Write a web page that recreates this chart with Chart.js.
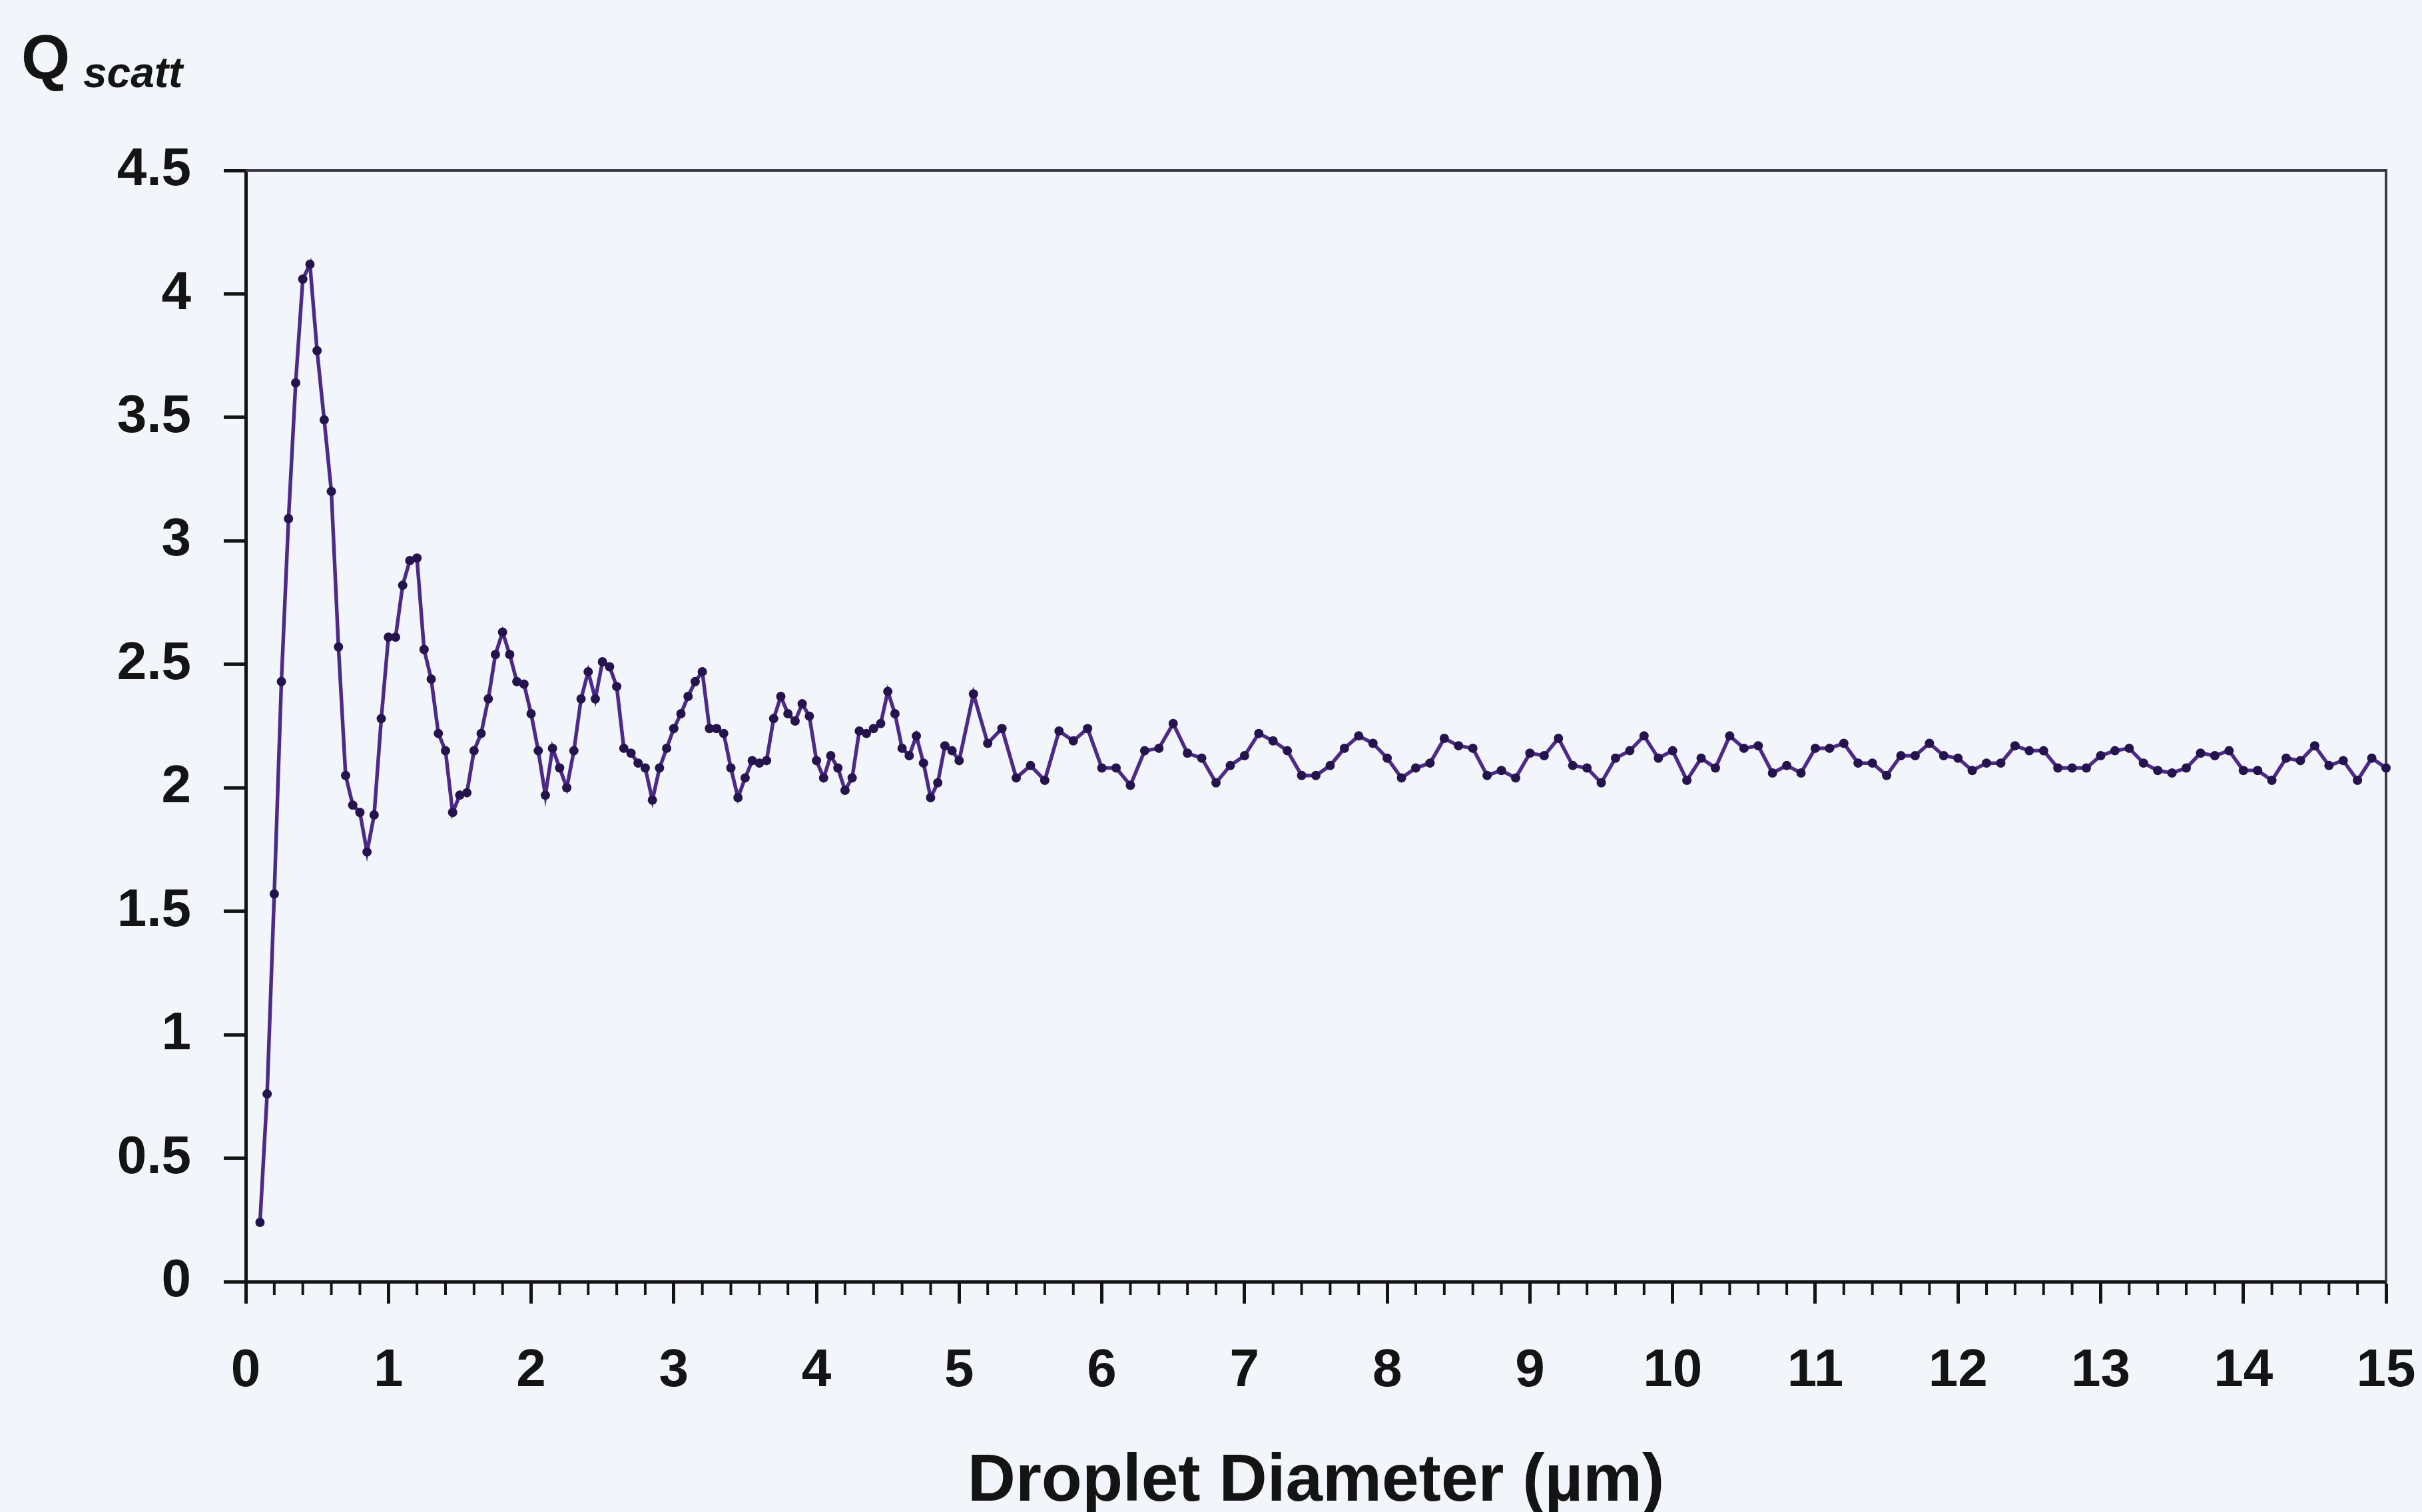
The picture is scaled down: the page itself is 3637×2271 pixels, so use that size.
<!DOCTYPE html>
<html>
<head>
<meta charset="utf-8">
<script src="https://cdn.jsdelivr.net/npm/chart.js@4"></script>
<style>
	html, body { margin: 0; padding: 0; background: #f2f6fa; }
	canvas { display: block; }
</style>
</head>
<body>
<canvas id="qscatt" width="3637" height="2271"></canvas>
<script>
// droplet diameters (µm), fine spacing up to 5 µm
const diameterFine = [0.1, 0.15, 0.2, 0.25, 0.3, 0.35, 0.4, 0.45, 0.5, 0.55, 0.6, 0.65, 0.7, 0.75, 0.8, 0.85, 0.9, 0.95, 1,
	1.05, 1.1, 1.15, 1.2, 1.25, 1.3, 1.35, 1.4, 1.45, 1.5, 1.55, 1.6, 1.65, 1.7, 1.75, 1.8, 1.85, 1.9, 1.95, 2,
	2.05, 2.1, 2.15, 2.2, 2.25, 2.3, 2.35, 2.4, 2.45, 2.5, 2.55, 2.6, 2.65, 2.7, 2.75, 2.8, 2.85, 2.9, 2.95, 3,
	3.05, 3.1, 3.15, 3.2, 3.25, 3.3, 3.35, 3.4, 3.45, 3.5, 3.55, 3.6, 3.65, 3.7, 3.75, 3.8, 3.85, 3.9, 3.95, 4,
	4.05, 4.1, 4.15, 4.2, 4.25, 4.3, 4.35, 4.4, 4.45, 4.5, 4.55, 4.6, 4.65, 4.7, 4.75, 4.8, 4.85, 4.9, 4.95, 5];
const qFine = [0.24, 0.76, 1.57, 2.43, 3.09, 3.64, 4.06, 4.12, 3.77, 3.49, 3.20, 2.57, 2.05, 1.93, 1.90, 1.74, 1.89, 2.28, 2.61,
	2.61, 2.82, 2.92, 2.93, 2.56, 2.44, 2.22, 2.15, 1.90, 1.97, 1.98, 2.15, 2.22, 2.36, 2.54, 2.63, 2.54, 2.43, 2.42, 2.30,
	2.15, 1.97, 2.16, 2.08, 2.00, 2.15, 2.36, 2.47, 2.36, 2.51, 2.49, 2.41, 2.16, 2.14, 2.10, 2.08, 1.95, 2.08, 2.16, 2.24,
	2.30, 2.37, 2.43, 2.47, 2.24, 2.24, 2.22, 2.08, 1.96, 2.04, 2.11, 2.10, 2.11, 2.28, 2.37, 2.30, 2.27, 2.34, 2.29, 2.11,
	2.04, 2.13, 2.08, 1.99, 2.04, 2.23, 2.22, 2.24, 2.26, 2.39, 2.30, 2.16, 2.13, 2.21, 2.10, 1.96, 2.02, 2.17, 2.15, 2.11];

// coarse spacing from 5.1 to 15 µm
const diameterCoarse = [5.1, 5.2, 5.3, 5.4, 5.5, 5.6, 5.7, 5.8, 5.9, 6, 6.1, 6.2, 6.3, 6.4, 6.5, 6.6, 6.7, 6.8, 6.9, 7,
	7.1, 7.2, 7.3, 7.4, 7.5, 7.6, 7.7, 7.8, 7.9, 8, 8.1, 8.2, 8.3, 8.4, 8.5, 8.6, 8.7, 8.8, 8.9, 9,
	9.1, 9.2, 9.3, 9.4, 9.5, 9.6, 9.7, 9.8, 9.9, 10, 10.1, 10.2, 10.3, 10.4, 10.5, 10.6, 10.7, 10.8, 10.9, 11,
	11.1, 11.2, 11.3, 11.4, 11.5, 11.6, 11.7, 11.8, 11.9, 12, 12.1, 12.2, 12.3, 12.4, 12.5, 12.6, 12.7, 12.8, 12.9, 13,
	13.1, 13.2, 13.3, 13.4, 13.5, 13.6, 13.7, 13.8, 13.9, 14, 14.1, 14.2, 14.3, 14.4, 14.5, 14.6, 14.7, 14.8, 14.9, 15];
const qCoarse = [2.38, 2.18, 2.24, 2.04, 2.09, 2.03, 2.23, 2.19, 2.24, 2.08, 2.08, 2.01, 2.15, 2.16, 2.26, 2.14, 2.12, 2.02, 2.09, 2.13,
	2.22, 2.19, 2.15, 2.05, 2.05, 2.09, 2.16, 2.21, 2.18, 2.12, 2.04, 2.08, 2.10, 2.20, 2.17, 2.16, 2.05, 2.07, 2.04, 2.14,
	2.13, 2.20, 2.09, 2.08, 2.02, 2.12, 2.15, 2.21, 2.12, 2.15, 2.03, 2.12, 2.08, 2.21, 2.16, 2.17, 2.06, 2.09, 2.06, 2.16,
	2.16, 2.18, 2.10, 2.10, 2.05, 2.13, 2.13, 2.18, 2.13, 2.12, 2.07, 2.10, 2.10, 2.17, 2.15, 2.15, 2.08, 2.08, 2.08, 2.13,
	2.15, 2.16, 2.10, 2.07, 2.06, 2.08, 2.14, 2.13, 2.15, 2.07, 2.07, 2.03, 2.12, 2.11, 2.17, 2.09, 2.11, 2.03, 2.12, 2.08];

const xTitle = 'Droplet Diameter (µm)';
const yTitle = 'Q';
const ySub = 'scatt';

const diameters = diameterFine.concat(diameterCoarse);
const qValues = qFine.concat(qCoarse);
const points = diameters.map((d, i) => ({ x: d, y: qValues[i] }));

const INK = '#141414';
const tickFont = { family: '"Liberation Sans", Arial, sans-serif', size: 80, weight: 'bold' };

// frame on top/right of the plot area, minor ticks, and the Q_scatt label
const extras = {
	id: 'extras',
	beforeDatasetsDraw(chart) {
		const { ctx, chartArea: a } = chart;
		ctx.save();
		ctx.strokeStyle = '#3e3a4c';
		ctx.lineWidth = 4;
		ctx.beginPath();
		ctx.moveTo(a.left, a.top);
		ctx.lineTo(a.right, a.top);
		ctx.lineTo(a.right, a.bottom);
		ctx.stroke();
		ctx.restore();
	},
	afterDraw(chart) {
		const { ctx, chartArea: a, scales: { x } } = chart;
		ctx.save();
		ctx.strokeStyle = INK;
		ctx.lineWidth = 4;
		for (let i = 1; i < 75; i++) {
			if (i % 5 === 0) continue;
			const px = x.getPixelForValue(i * 0.2);
			ctx.beginPath();
			ctx.moveTo(px, a.bottom);
			ctx.lineTo(px, a.bottom + 20);
			ctx.stroke();
		}
		ctx.fillStyle = INK;
		ctx.textBaseline = 'alphabetic';
		ctx.textAlign = 'left';
		ctx.font = 'bold 94px "Liberation Sans", Arial, sans-serif';
		ctx.fillText(yTitle, 32, 118);
		ctx.font = 'italic bold 64px "Liberation Sans", Arial, sans-serif';
		ctx.fillText(ySub, 125, 131);
		ctx.restore();
	}
};

const config_qscatt = {
	type: 'line',
	data: {
		datasets: [
			{
				label: 'Qscatt',
				data: points,
				borderColor: '#4e2a88',
				borderWidth: 5.5,
				tension: 0,
				pointRadius: 7,
				pointBackgroundColor: '#24134c',
				pointBorderColor: '#24134c',
				pointBorderWidth: 0,
				clip: false,
			},
		]
	},
	options: {
		responsive: false,
		animation: false,
		devicePixelRatio: 1,
		layout: {
			padding: { left: 0, top: 256, right: 54, bottom: 0 }
		},
		plugins: {
			legend: { display: false },
			title: { display: false },
			tooltip: { enabled: false }
		},
		scales: {
			x: {
				type: 'linear',
				min: 0,
				max: 15,
				afterFit: s => {
					s.height = 346;
					s.paddingLeft = 0;
					s.paddingRight = 0;
				},
				border: { display: true, color: INK, width: 5 },
				grid: {
					drawOnChartArea: false,
					drawTicks: true,
					tickLength: 33,
					tickWidth: 5,
					tickColor: INK
				},
				ticks: {
					stepSize: 1,
					padding: 54,
					color: INK,
					font: tickFont,
					maxRotation: 0,
					autoSkip: false,
					callback: v => String(v)
				},
				title: {
					display: true,
					text: xTitle,
					color: INK,
					font: { family: '"Liberation Sans", Arial, sans-serif', size: 100, weight: 'bold', lineHeight: 1 },
					padding: { top: 0, bottom: -5 }
				}
			},
			y: {
				type: 'linear',
				min: 0,
				max: 4.5,
				afterFit: s => { s.width = 369; },
				border: { display: true, color: INK, width: 5 },
				grid: {
					drawOnChartArea: false,
					drawTicks: true,
					tickLength: 33,
					tickWidth: 5,
					tickColor: INK
				},
				ticks: {
					stepSize: 0.5,
					padding: 49,
					color: INK,
					font: tickFont,
					callback: v => String(v)
				}
			},
		}
	},
	plugins: [extras]
};

const qscatt = new Chart(document.getElementById('qscatt'), config_qscatt);
</script>
</body>
</html>
